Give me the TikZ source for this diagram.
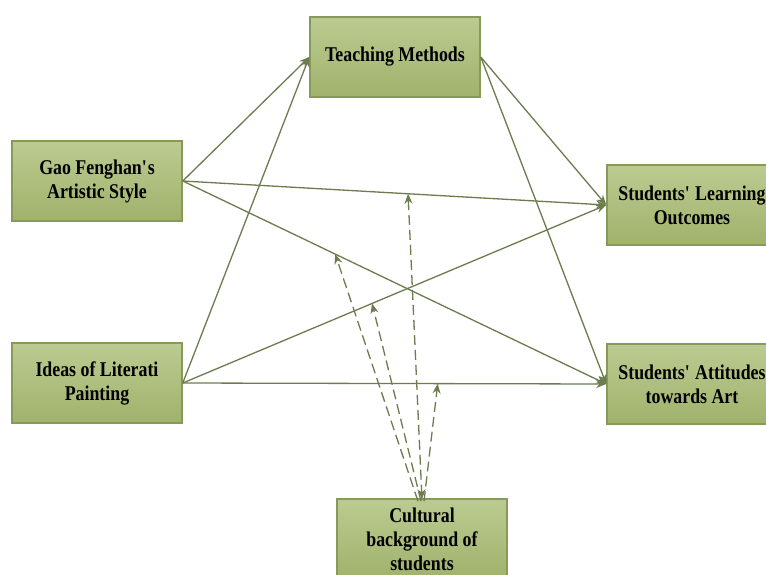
\documentclass[tikz,border=0pt]{standalone}
\usepackage{fontspec}
\setmainfont{Liberation Serif}[FakeStretch=0.85]
\usetikzlibrary{arrows.meta}
\definecolor{edgecol}{RGB}{108,124,78}
\definecolor{boxtop}{RGB}{188,203,145}
\definecolor{boxbot}{RGB}{160,178,108}
\definecolor{boxline}{RGB}{135,154,88}
\tikzset{
  varbox/.style={draw=boxline, line width=1.5pt, top color=boxtop, bottom color=boxbot,
    minimum width=170pt, minimum height=80pt, inner sep=0pt, align=center,
    font=\fontsize{21pt}{24pt}\selectfont\bfseries, text=black},
  link/.style={draw=edgecol, line width=1.3pt, -{Stealth[length=10pt,width=8pt]}},
  modlink/.style={draw=edgecol, line width=1.3pt, dash pattern=on 10pt off 5pt, -{Stealth[length=10pt,width=8pt]}}
}
\begin{document}
\begin{tikzpicture}[x=1pt,y=-1pt]
\useasboundingbox (0,0) rectangle (766,574);
\fill[white] (0,0) rectangle (766,574);
\node[varbox] (tm) at (395,57) {Teaching Methods};
\node[varbox] (gao) at (97,181) {Gao Fenghan\textquotesingle s\\Artistic Style};
\node[varbox] (ideas) at (97,383) {Ideas of Literati\\Painting};
\node[varbox] (slo) at (692,205) {Students\textquotesingle\ Learning\\Outcomes};
\node[varbox] (saa) at (692,384) {Students\textquotesingle\ Attitudes\\towards Art};
\node[varbox] (cult) at (422,539) {Cultural\\background of\\students};
% solid paths
\draw[link] (gao.east) -- (tm.west);
\draw[link] (gao.east) -- (slo.west);
\draw[link] (gao.east) -- (saa.west);
\draw[link] (ideas.east) -- (tm.west);
\draw[link] (ideas.east) -- (slo.west);
\draw[link] (ideas.east) -- (saa.west);
\draw[link] (tm.east) -- (slo.west);
\draw[link] (tm.east) -- (saa.west);
% moderation targets on the paths
\path (gao.east) -- (saa.west) coordinate[pos=0.36] (m1);
\path (ideas.east) -- (slo.west) coordinate[pos=0.447] (m2);
\path (gao.east) -- (slo.west) coordinate[pos=0.532] (m3);
\path (ideas.east) -- (saa.west) coordinate[pos=0.602] (m4);
\coordinate (c1) at ([xshift=-4pt,yshift=-3pt]cult.north);
\coordinate (c2) at ([xshift=-1pt,yshift=-3pt]cult.north);
\coordinate (c3) at ([xshift=0pt,yshift=-1pt]cult.north);
\coordinate (c4) at ([xshift=2pt,yshift=-3pt]cult.north);
\draw[modlink] (c1) -- (m1);
\draw[modlink] (c2) -- (m2);
\draw[modlink, {Stealth[length=10pt,width=8pt]}-{Stealth[length=10pt,width=8pt]}] (m3) -- (c3);
\draw[modlink] (c4) -- (m4);
\end{tikzpicture}
\end{document}
